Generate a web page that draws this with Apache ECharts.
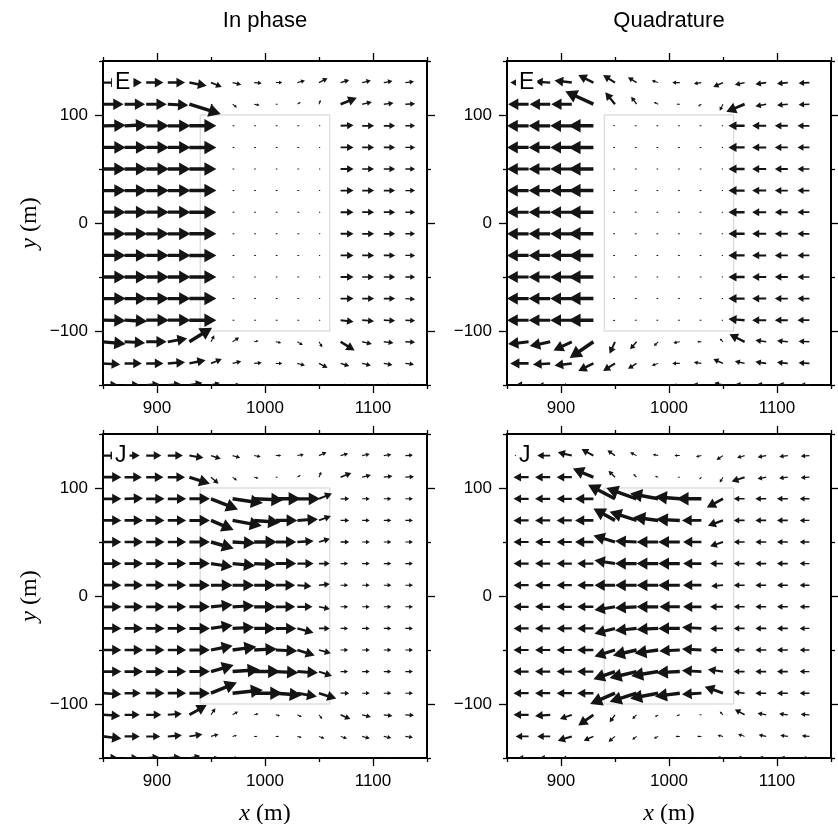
<!DOCTYPE html>
<html>
<head>
<meta charset="utf-8">
<script src="https://cdn.jsdelivr.net/npm/echarts@6/dist/echarts.min.js"></script>
<style>
  html, body { margin: 0; padding: 0; background: #fff; }
  #chart { width: 838px; height: 824px; }
</style>
</head>
<body>
<div id="chart"></div>
<script>
// Station grid (m): tails of the current vectors
const xs = [850, 870, 890, 910, 930, 950, 970, 990, 1010, 1030, 1050, 1070, 1090, 1110, 1130];
const ys = [130, 110, 90, 70, 50, 30, 10, -10, -30, -50, -70, -90, -110, -130, -150];

const xMajor = [900, 1000, 1100];
const xMinor = [850, 950, 1050, 1150];
const yMajor = [-100, 0, 100];
const yMinor = [-150, -50, 50, 150];

const columnTitles = ['In phase', 'Quadrature'];
const panelLetters = ['E', 'E', 'J', 'J'];
const bodyOutline = [940, -100, 1060, 100];

// E-polarisation, in-phase: east (u) and north (v) components, rows top to bottom
const eInPhaseU = [
  [15, 16, 16, 16, 16, 10, 8, 7, 6, 7, 8, 8, 8, 8, 8],
  [19, 19, 19, 19, 29, 2, 4, 5, 2, 3, 1.5, 15, 9, 9, 9],
  [21, 21, 21, 21, 25, 2, 2, 2, 2, 2, 1.5, 12, 11, 10.5, 9],
  [21, 21, 21, 21, 25, 2, 2, 2, 2, 2, 1.5, 12, 11, 10.5, 9],
  [21, 21, 21, 21, 25, 2, 2, 2, 2, 2, 1.5, 12, 11, 10.5, 9],
  [21, 21, 21, 21, 25, 2, 2, 2, 2, 2, 1.5, 12, 11, 10.5, 9],
  [21, 21, 21, 21, 25, 2, 2, 2, 2, 2, 1.5, 12, 11, 10.5, 9],
  [21, 21, 21, 21, 25, 2, 2, 2, 2, 2, 1.5, 12, 11, 10.5, 9],
  [21, 21, 21, 21, 25, 2, 2, 2, 2, 2, 1.5, 12, 11, 10.5, 9],
  [21, 21, 21, 21, 25, 2, 2, 2, 2, 2, 1.5, 12, 11, 10.5, 9],
  [21, 21, 21, 21, 25, 2, 2, 2, 2, 2, 1.5, 12, 11, 10.5, 9],
  [21, 21, 21, 21, 25, 2, 2, 2, 2, 2, 1.5, 12, 11, 10.5, 9],
  [21, 19, 19, 18, 21, 3, 6, 4, 5, 5, 3, 13, 9, 9, 9],
  [16, 16, 16, 16, 15, 10, 8, 7, 6, 7, 8, 8, 8, 8, 8],
  [14, 14, 12, 12, 12, 8, 6, 5, 5, 6, 6, 7, 7, 7, 7]
];
const eInPhaseV = [
  [0, 0, 0, 0, -3, -4, -2, -0.5, 0, 2, 4, 2.5, 2, 1.5, 1],
  [0, 0, 0, -1, -9, -1, -3, -1, 0, 2, 4, 6, 2, 1, 0.5],
  [0.5, 1, 0, 0, 0, 0, 0, 0, 0, 0, 0, 0.5, 0, 0, 0],
  [0, 0, 0, 0, 0, 0, 0, 0, 0, 0, 0, 0, 0, 0, 0],
  [0, 0, 0, 0, 0, 0, 0, 0, 0, 0, 0, 0, 0, 0, 0],
  [0, 0, 0, 0, 0, 0, 0, 0, 0, 0, 0, 0, 0, 0, 0],
  [0, 0, 0, 0, 0, 0, 0, 0, 0, 0, 0, 0, 0, 0, 0],
  [0, 0, 0, 0, 0, 0, 0, 0, 0, 0, 0, 0, 0, 0, 0],
  [0, 0, 0, 0, 0, 0, 0, 0, 0, 0, 0, 0, 0, 0, 0],
  [0, 0, 0, 0, 0, 0, 0, 0, 0, 0, 0, 0, 0, 0, 0],
  [0, 0, 0, 0, 0, 0, 0, 0, 0, 0, 0, 0, 0, 0, -0.5],
  [-0.5, -1, 0, 0, 0, 0, 0, 0, 0, 0, 0, -1.5, -1, -0.5, -0.5],
  [-2, -1, 0, 3, 13, 6, 4, 1, -1, -3, -5, -8, -2, -1, -0.5],
  [-1, 0, 0, 1, 3, 4, 2, 0.5, 0, -2, -4, -2.5, -2, -1.5, -1],
  [0, 0, 1, 1, 2, 2, 1, 0, 0, -1, -1, -1, -1, -1, -1]
];

// E-polarisation, quadrature
const eQuadU = [
  [-15, -17, -14, -16, -14, -11, -8, -6, -7, -7, -9, -9, -10, -10, -10],
  [-19, -19, -19, -19, -26, -9, -5, -4, -3, -3, -3, -17, -10, -10, -10],
  [-20, -20, -20, -20, -23, -2, -2, -2, -2, -2, -1.5, -15, -13, -12, -11],
  [-20, -20, -20, -20, -23, -2, -2, -2, -2, -2, -1.5, -15, -13, -12, -11],
  [-20, -20, -20, -20, -23, -2, -2, -2, -2, -2, -1.5, -15, -13, -12, -11],
  [-20, -20, -20, -20, -23, -2, -2, -2, -2, -2, -1.5, -15, -13, -12, -11],
  [-20, -20, -20, -20, -23, -2, -2, -2, -2, -2, -1.5, -15, -13, -12, -11],
  [-20, -20, -20, -20, -23, -2, -2, -2, -2, -2, -1.5, -15, -13, -12, -11],
  [-20, -20, -20, -20, -23, -2, -2, -2, -2, -2, -1.5, -15, -13, -12, -11],
  [-20, -20, -20, -20, -23, -2, -2, -2, -2, -2, -1.5, -15, -13, -12, -11],
  [-20, -20, -20, -20, -23, -2, -2, -2, -2, -2, -1.5, -15, -13, -12, -11],
  [-20, -20, -20, -20, -23, -2, -2, -2, -2, -2, -1.5, -15, -13, -12, -11],
  [-19, -19, -19, -17, -22, -5, -6, -4, -6, -4, -3, -14, -10, -10, -10],
  [-15, -17, -16, -16, -14, -11, -8, -6, -7, -7, -9, -9, -10, -10, -10],
  [-12, -12, -12, -10, -8, -6, -5, -5, -6, -7, -8, -8, -8, -8, -8]
];
const eQuadV = [
  [0, 0, 1, 2, 7, 7, 5, 2, 0, -1, -4, -2, -1.5, -1, -0.5],
  [0, 0, 0, 0, 12, 11, 7, 2, 0, -2, -6, -7, -2, -1, -0.5],
  [0, 0, 0, 0, 0, 0.5, 0, 0, 0, 0, 0, 0, 0, 0, 0],
  [0, 0, 0, 0, 0, 0, 0, 0, 0, 0, 0, 0, 0, 0, 0],
  [0, 0, 0, 0, 0, 0, 0, 0, 0, 0, 0, 0, 0, 0, 0],
  [0, 0, 0, 0, 0, 0, 0, 0, 0, 0, 0, 0, 0, 0, 0],
  [0, 0, 0, 0, 0, 0, 0, 0, 0, 0, 0, 0, 0, 0, 0],
  [0, 0, 0, 0, 0, 0, 0, 0, 0, 0, 0, 0, 0, 0, 0],
  [0, 0, 0, 0, 0, 0, 0, 0, 0, 0, 0, 0, 0, 0, 0],
  [0, 0, 0, 0, 0, 0, 0, 0, 0, 0, 0, 0, 0, 0, 0],
  [0, 0, 0, 0, 0, 0, 0, 0, 0, 0, 0, 0, 0, 0, 0],
  [0, 0, 0, 0, 0, -0.5, 0, 0, 0, 0, 0, 1, 0, 0, 0],
  [-2, -2, -4, -8, -15, -11, -7, -4, -1, 0, 3, 7, 1.5, 1, 0.5],
  [0, 0, -1, -2, -7, -7, -5, -2, 0, 1, 4, 2, 1.5, 1, 0.5],
  [0, 0, -1, -2, -3, -3, -2, -1, 0, 1, 2, 1, 1, 1, 0.5]
];

// J-polarisation, in-phase
const jInPhaseU = [
  [14, 14, 14, 14, 13, 9, 7, 6, 5, 6, 7, 7, 7, 7, 7],
  [17, 16, 16, 16, 19, 7, 4, 4, 2, 3, 2, 10, 8, 8, 8],
  [17, 17, 17, 17, 19, 25, 28, 27, 23, 21, 12, 8, 7, 7, 7],
  [17, 17, 17, 17, 19, 21, 27, 24, 20, 19, 11, 8, 7, 7, 7],
  [17, 17, 17, 17, 19, 21, 21, 21, 19, 15, 10, 8, 7, 7, 7],
  [17, 17, 17, 17, 19, 20, 21, 20, 19, 15, 10, 7, 7, 7, 7],
  [17, 17, 17, 17, 19, 20, 20, 20, 18, 13, 10, 7, 7, 7, 7],
  [17, 17, 17, 17, 19, 20, 20, 20, 18, 14, 10, 7, 7, 7, 7],
  [17, 17, 17, 17, 19, 20, 20, 20, 19, 15, 10, 7, 7, 7, 7],
  [17, 17, 17, 17, 19, 20, 22, 21, 20, 16, 11, 7, 7, 7, 7],
  [17, 17, 17, 17, 19, 21, 25, 24, 21, 19, 12, 7, 7, 7, 7],
  [17, 15, 17, 17, 19, 24, 28, 26, 24, 18, 16, 8, 7, 7, 7],
  [16, 14, 14, 13, 16, 4, 5, 4, 4, 4, 3, 9, 8, 8, 8],
  [17, 14, 13, 13, 12, 7, 4, 3, 3, 4, 5, 6, 7, 7, 7],
  [14, 13, 12, 12, 10, 6, 4, 3, 3, 4, 5, 6, 6, 6, 6]
];
const jInPhaseV = [
  [0, 0, 0, 0, -2, -3, -2, -1, 0, 1, 3, 2, 1.5, 1, 0.5],
  [0, 0, 0, 0, -6, -6, -3, -1, 0, 2, 5, 4, 2, 1, 0.5],
  [0, 0.5, 0, 0, 0, -10, -4, -1, 0, 0, 5, 0, 0, 0, 0],
  [0, 0, 0, 0, 0, -9, -5, -2, 0, 1, 4, 0, 0, 0, 0],
  [0, 0, 0, 0, 0, -6, -1, 0, 0, 1, 3, 0, 0, 0, 0],
  [0, 0, 0, 0, 0, -3, -2, -1, 0, 0, 0, 0, 0, 0, 0],
  [0, 0, 0, 0, 0, 0, 0, 0, 0, -1, 1, 0, 0, 0, 0],
  [0, 0, 0, 0, 0, 2, 1, 0, 0, 0, -2, 0, 0, 0, 0],
  [0, 0, 0, 0, 0, 3, 1, 0, 0, -4, 0, 0, 0, 0, 0],
  [0, 0, 0, 0, 0, 4, 3, 1, -1, -5, -3, 0, 0, 0, 0],
  [0, 0, 0, 0, 0, 6, 2, 0, -1, -1, -4, 0, 0, 0, 0],
  [-1, 0, 0, 0, 0, 10, 3, 0, -2, -3, -5, 0, 0, 0, 0],
  [-1, 0, 0, 1, 9, 6, 3, 1, -1, -2, -4, -4, -2, -1, -0.5],
  [-2, 0, 0, 1, 2, 2, 1, 0, 0, -1, -2, -2, -2, -1.5, -1],
  [0, 0, 1, 1, 2, 1, 1, 0, 0, -1, -1, -1, -1, -1, -1]
];

// J-polarisation, quadrature
const jQuadU = [
  [-13, -13, -12, -13, -11, -7, -6, -5, -5, -5, -6, -7, -8, -8, -8],
  [-14, -14, -14, -14, -19, -6, -3, -3, -2, -2, -3, -12, -8, -8, -8],
  [-14, -14, -14, -14, -17, -25, -28, -26, -23, -23, -15, -10, -10, -10, -9],
  [-14, -14, -14, -14, -17, -20, -25, -23, -22, -18, -14, -10, -10, -10, -9],
  [-14, -14, -14, -14, -17, -20, -20, -20, -20, -17, -12, -10, -10, -10, -9],
  [-14, -14, -14, -14, -15, -19, -20, -20, -20, -17, -12, -10, -10, -10, -9],
  [-14, -14, -14, -14, -15, -19, -20, -20, -20, -17, -11, -10, -10, -10, -9],
  [-14, -14, -14, -14, -15, -19, -20, -20, -19, -17, -12, -10, -10, -10, -9],
  [-14, -14, -14, -14, -15, -19, -20, -20, -20, -18, -12, -10, -10, -10, -9],
  [-14, -14, -14, -14, -15, -19, -22, -22, -19, -18, -12, -10, -10, -10, -9],
  [-14, -14, -14, -14, -15, -20, -25, -25, -22, -18, -14, -10, -10, -10, -9],
  [-14, -14, -14, -14, -15, -23, -25, -26, -23, -18, -17, -10, -10, -10, -9],
  [-14, -14, -14, -11, -14, -5, -4, -3, -3, -2, -3, -9, -8, -8, -8],
  [-12, -12, -12, -13, -9, -6, -4, -4, -4, -4, -5, -6, -7, -7, -7],
  [-10, -10, -10, -10, -8, -5, -4, -3, -3, -4, -5, -6, -6, -6, -6]
];
const jQuadV = [
  [0, 0, 0, 3, 6, 5, 3, 1, 0, -1, -4, -2, -1.5, -1, -0.5],
  [0, 0, 0, 0, 8, 6, 3, 1, 0, -2, -5, -4, -1.5, -1, -0.5],
  [0, 0, 0, 0, 0, 13, 10, 5, 2, 0, -8, 0, 0, 0, 0],
  [0, 0, 0, 0, 0, 11, 8, 3, 1, 0, -5, 0, 0, 0, 0],
  [0, 0, 0, 0, 0, 6, 1, 0, 0, 0, -4, 0, 0, 0, 0],
  [0, 0, 0, 0, 0, 3, 0, 0, 0, 0, 0, 0, 0, 0, 0],
  [0, 0, 0, 0, 0, 0, 0, 0, 0, 0, -1, 0, 0, 0, 0],
  [0, 0, 0, 0, 0, -3, -1, 0, 0, 0, 0, 0, 0, 0, 0],
  [0, 0, 0, 0, 0, -5, -2, -1, 0, 1, 0, 0, 0, 0, 0],
  [0, 0, 0, 0, 0, -6, -5, -3, -1, 1, 0, 0, 0, 0, 0],
  [0, 0, 0, 0, 0, -7, -6, -4, -1, 1, 2, 0, 0, 0, 0],
  [0, 0, 0, 0, 0, -10, -8, -5, -3, -1, 6, 1, 0, 0, 0],
  [0, 0, -1, -4, -10, -7, -4, -2, -1, 0, 3, 5, 1.5, 1, 0.5],
  [0, 0, 0, -4, -4, -5, -3, -2, 0, 0, 1, 2, 1.5, 1, 0.5],
  [0, 0, 0, -1, -2, -2, -1, -1, 0, 0, 1, 1, 1, 1, 0.5]
];

const panels = [
  { u: eInPhaseU, v: eInPhaseV },
  { u: eQuadU, v: eQuadV },
  { u: jInPhaseU, v: jInPhaseV },
  { u: jQuadU, v: jQuadV }
];

const gridBoxes = [
  { left: 103, top: 61 },
  { left: 507, top: 61 },
  { left: 103, top: 434 },
  { left: 507, top: 434 }
];
const SIDE = 324;

const SANS = '"Liberation Sans", Arial, Helvetica, sans-serif';
const SERIF = '"Liberation Serif", "Times New Roman", serif';
const INK = '#000';

function plainFmt(v) { return v < 0 ? '\u2212' + Math.abs(v) : String(v); }

// Filled arrow: tail at the station, tip at station + (u, v); heads and shafts
// shrink in proportion for vectors shorter than the reference length.
function renderArrow(params, api) {
  const x = api.value(0), y = api.value(1), u = api.value(2), v = api.value(3);
  const p0 = api.coord([x, y]);
  const p1 = api.coord([x + u, y + v]);
  const dx = p1[0] - p0[0], dy = p1[1] - p0[1];
  const L = Math.hypot(dx, dy);
  if (L < 0.3) return null;
  const REF = 24;
  const k = Math.min(L, REF) / REF;
  const headLen = 12 * k;
  const headW = 13.5 * k;
  const shaftW = Math.max(1, 3.5 * k);
  const ux = dx / L, uy = dy / L;
  const nx = -uy, ny = ux;
  const bx = p1[0] - ux * headLen, by = p1[1] - uy * headLen;
  const s = shaftW / 2, h = headW / 2;
  const pts = [
    [p0[0] + nx * s, p0[1] + ny * s],
    [bx + nx * s, by + ny * s],
    [bx + nx * h, by + ny * h],
    [p1[0], p1[1]],
    [bx - nx * h, by - ny * h],
    [bx - nx * s, by - ny * s],
    [p0[0] - nx * s, p0[1] - ny * s]
  ];
  return { type: 'polygon', shape: { points: pts }, style: { fill: '#141414', stroke: null } };
}

function renderOutline(params, api) {
  const a = api.coord([api.value(0), api.value(3)]);
  const b = api.coord([api.value(2), api.value(1)]);
  return {
    type: 'rect',
    shape: { x: a[0], y: a[1], width: b[0] - a[0], height: b[1] - a[1] },
    style: { fill: null, stroke: '#cfcfcf', lineWidth: 1 }
  };
}

const grids = gridBoxes.map(b => ({
  left: b.left, top: b.top, width: SIDE, height: SIDE,
  containLabel: false, outerBoundsMode: 'none'
}));

const xAxes = [];
const yAxes = [];
gridBoxes.forEach((b, g) => {
  const frame = { show: true, onZero: false, lineStyle: { color: INK, width: 2 } };
  const tickStyle = { color: INK, width: 1.3 };
  const xBase = { gridIndex: g, type: 'value', min: 850, max: 1150, interval: 50, splitLine: { show: false } };
  const yBase = { gridIndex: g, type: 'value', min: -150, max: 150, interval: 50, splitLine: { show: false } };
  const bottomMajor = Object.assign({}, xBase, {
    position: 'bottom',
    axisLine: frame,
    axisTick: { show: true, customValues: xMajor, length: 8, lineStyle: tickStyle },
    axisLabel: { show: true, customValues: xMajor, color: INK, fontSize: 17, fontFamily: SANS, margin: 15, formatter: plainFmt }
  });
  if (g >= 2) {
    Object.assign(bottomMajor, {
      name: '{i|x} (m)', nameLocation: 'middle', nameGap: 44,
      nameTextStyle: { color: INK, fontFamily: SERIF, fontSize: 24,
        rich: { i: { fontStyle: 'italic', fontFamily: SERIF, fontSize: 24, color: INK } } }
    });
  }
  xAxes.push(bottomMajor);
  xAxes.push(Object.assign({}, xBase, {
    position: 'bottom', axisLine: { show: false, onZero: false },
    axisTick: { show: true, customValues: xMinor, length: 4, lineStyle: tickStyle },
    axisLabel: { show: false }
  }));
  xAxes.push(Object.assign({}, xBase, {
    position: 'top', axisLine: frame,
    axisTick: { show: true, customValues: xMajor, length: 8, lineStyle: tickStyle },
    axisLabel: { show: false }
  }));
  xAxes.push(Object.assign({}, xBase, {
    position: 'top', axisLine: { show: false, onZero: false },
    axisTick: { show: true, customValues: xMinor, length: 4, lineStyle: tickStyle },
    axisLabel: { show: false }
  }));

  const leftMajor = Object.assign({}, yBase, {
    position: 'left',
    axisLine: frame,
    axisTick: { show: true, customValues: yMajor, length: 8, lineStyle: tickStyle },
    axisLabel: { show: true, customValues: yMajor, color: INK, fontSize: 17, fontFamily: SANS, margin: 15, formatter: plainFmt }
  });
  if (g % 2 === 0) {
    Object.assign(leftMajor, {
      name: '{i|y} (m)', nameLocation: 'middle', nameGap: 61, nameRotate: 90,
      nameTextStyle: { color: INK, fontFamily: SERIF, fontSize: 24,
        rich: { i: { fontStyle: 'italic', fontFamily: SERIF, fontSize: 24, color: INK } } }
    });
  }
  yAxes.push(leftMajor);
  yAxes.push(Object.assign({}, yBase, {
    position: 'left', axisLine: { show: false, onZero: false },
    axisTick: { show: true, customValues: yMinor, length: 4, lineStyle: tickStyle },
    axisLabel: { show: false }
  }));
  yAxes.push(Object.assign({}, yBase, {
    position: 'right', axisLine: frame,
    axisTick: { show: true, customValues: yMajor, length: 8, lineStyle: tickStyle },
    axisLabel: { show: false }
  }));
  yAxes.push(Object.assign({}, yBase, {
    position: 'right', axisLine: { show: false, onZero: false },
    axisTick: { show: true, customValues: yMinor, length: 4, lineStyle: tickStyle },
    axisLabel: { show: false }
  }));
});

const series = [];
panels.forEach((p, g) => {
  series.push({
    type: 'custom', coordinateSystem: 'cartesian2d',
    xAxisIndex: g * 4, yAxisIndex: g * 4,
    renderItem: renderOutline, data: [bodyOutline], silent: true, z: 1, clip: true
  });
  const data = [];
  ys.forEach((y, r) => {
    xs.forEach((x, c) => {
      data.push([x, y, p.u[r][c], p.v[r][c]]);
    });
  });
  series.push({
    type: 'custom', coordinateSystem: 'cartesian2d',
    xAxisIndex: g * 4, yAxisIndex: g * 4,
    renderItem: renderArrow, data: data, silent: true, z: 3, clip: true,
    encode: { x: 0, y: 1 }
  });
});

const graphics = [];
columnTitles.forEach((t, i) => {
  graphics.push({
    type: 'text', z: 100,
    x: gridBoxes[i].left + SIDE / 2, y: 21,
    style: { text: t, fill: INK, font: '22px ' + SANS, align: 'center', verticalAlign: 'middle' }
  });
});
panelLetters.forEach((t, g) => {
  graphics.push({
    type: 'text', z: 100,
    x: gridBoxes[g].left + 9, y: gridBoxes[g].top + 22,
    style: {
      text: t, fill: INK, font: '23px ' + SANS, align: 'left', verticalAlign: 'middle',
      backgroundColor: '#fff', padding: [1, 3, 0, 3]
    }
  });
});

const chart = echarts.init(document.getElementById('chart'), null, { renderer: 'canvas' });
chart.setOption({
  animation: false,
  backgroundColor: '#fff',
  grid: grids,
  xAxis: xAxes,
  yAxis: yAxes,
  series: series,
  graphic: graphics
});
</script>
</body>
</html>
